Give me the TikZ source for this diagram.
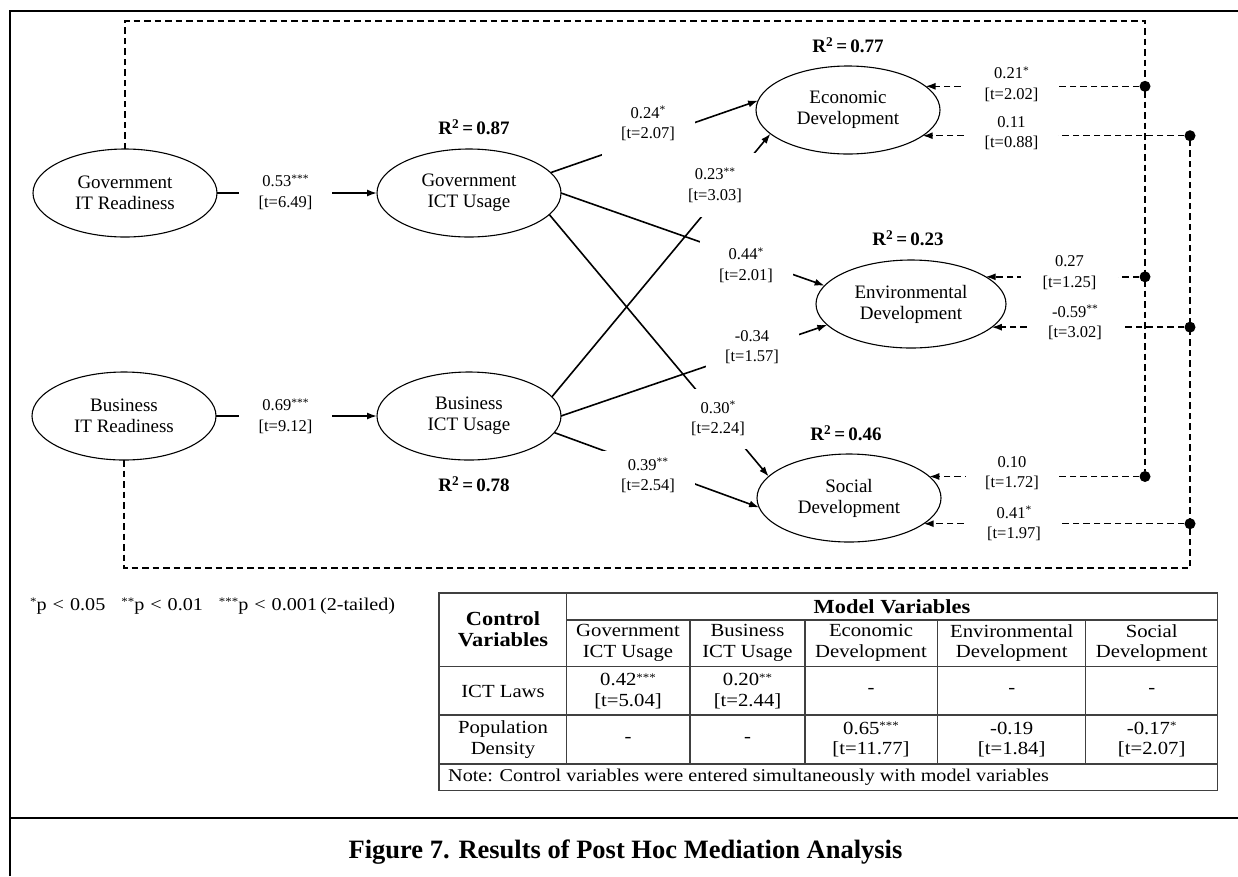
\documentclass[tikz,border=0pt]{standalone}
\usepackage{fontspec}
\setmainfont{Liberation Serif}
\newfontfamily\tabf[FakeStretch=1.12]{Liberation Serif}
\usetikzlibrary{shapes.geometric,arrows.meta}
\newcommand\nodefont{\fontsize{19}{21}\selectfont}
\newcommand\labfont{\fontsize{16.5}{20.5}\selectfont}
\newcommand\rfont{\fontsize{19}{22}\selectfont\bfseries}
\newcommand\capfont{\fontsize{26.5}{30}\selectfont\bfseries}
\newcommand\tabtext{\tabf\fontsize{18.5}{20.5}\selectfont}
\newcommand\tabhead{\tabf\fontsize{20}{21}\selectfont\bfseries}
\newcommand\sigst[1]{\raisebox{4.5pt}{\fontsize{11.5}{11.5}\selectfont #1}}
\begin{document}
\begin{tikzpicture}[x=1pt,y=-1pt,
  var/.style={ellipse, draw, line width=1.1pt, minimum width=184pt, minimum height=88pt,
    inner sep=0pt, outer sep=0pt, align=center, font=\nodefont},
  conn/.style={line width=1.6pt, -{Latex[length=10pt,width=7pt]}},
  ctrlline/.style={line width=1.4pt, dash pattern=on 6.5pt off 4pt},
  ctrl/.style={ctrlline, -{Latex[length=10pt,width=7pt]}},
  coef/.style={fill=white, inner sep=1pt, minimum width=93pt, align=center, font=\labfont},
  rsq/.style={font=\rfont, inner sep=1pt},
  dot/.style={circle, fill, inner sep=0pt, minimum size=11pt},
  frame/.style={line width=2.6pt},
  tab/.style={line width=1.4pt, black!75},
  cell/.style={align=center, font=\tabtext, inner sep=1pt},
  hcell/.style={align=center, font=\tabhead, inner sep=1pt}]
\useasboundingbox (0,0) rectangle (1238,876);

% frame
\draw[frame] (10,876) -- (10,11) -- (1238,11);
\draw[frame] (10,818) -- (1238,818);

% variables
\node[var] (gitr) at (125,193) {Government\\IT Readiness};
\node[var] (gict) at (469,193) {Government\\ICT Usage};
\node[var] (bitr) at (124,416) {Business\\IT Readiness};
\node[var] (bict) at (469,416) {Business\\ICT Usage};
\node[var] (econ) at (848,110) {Economic\\Development};
\node[var, minimum width=190pt] (envi) at (911,304) {Environmental\\Development};
\node[var] (soci) at (849,498) {Social\\Development};

% R squared
\node[rsq] (r87) at (474,127) {R\textsuperscript{2}\,=\,0.87};
\node[rsq] (r78) at (474,484) {R\textsuperscript{2}\,=\,0.78};
\node[rsq] (r77) at (848,45) {R\textsuperscript{2}\,=\,0.77};
\node[rsq] (r23) at (908,238) {R\textsuperscript{2}\,=\,0.23};
\node[rsq] (r46) at (846,433) {R\textsuperscript{2}\,=\,0.46};

% structural paths
\draw[conn] (gitr.east) -- (gict.west);
\draw[conn] (bitr.east) -- (bict.west);
\draw[conn] (gict.14) -- (econ.174);
\draw[conn] (bict.13) -- (econ.197);
\draw[conn] (gict.0) -- (envi.168);
\draw[conn] (bict.0) -- (envi.194);
\draw[conn] (gict.-15) -- (soci.165);
\draw[conn] (bict.-11) -- (soci.186);

% control paths
\coordinate (vA) at (1145,21);
\coordinate (vB) at (1190,568);
\node[dot] (dE1) at (econ.17 -| vA) {};
\node[dot] (dE2) at (econ.-19 -| vB) {};
\node[dot] (dN1) at (envi.20 -| vA) {};
\node[dot] (dN2) at (envi.-16 -| vB) {};
\node[dot] (dS1) at (soci.15 -| vA) {};
\node[dot] (dS2) at (soci.-19 -| vB) {};
\draw[ctrlline] (gitr.north) |- (vA) -- (dS1);
\draw[ctrlline] (bitr.south) |- (vB) -- (dE2);
\draw[ctrl] (dE1) -- (econ.17);
\draw[ctrl] (dE2) -- (econ.-19);
\draw[ctrl] (dN1) -- (envi.20);
\draw[ctrl] (dN2) -- (envi.-16);
\draw[ctrl] (dS1) -- (soci.15);
\draw[ctrl] (dS2) -- (soci.-19);

% coefficient labels
\node[coef, minimum height=44pt] (k53) at (285.5,192) {0.53\sigst{***}\\{}[t=6.49]};
\node[coef, minimum height=44pt] (k69) at (285.5,416) {0.69\sigst{***}\\{}[t=9.12]};
\node[coef, minimum height=64pt] (k24) at (648,123.5) {0.24\sigst{*}\\{}[t=2.07]};
\node[coef, minimum height=64pt] (k23) at (715,185) {0.23\sigst{**}\\{}[t=3.03]};
\node[coef, minimum height=48pt] (k44) at (746,265) {0.44\sigst{*}\\{}[t=2.01]};
\node[coef, minimum height=50pt] (k34) at (752,347) {-0.34\\{}[t=1.57]};
\node[coef, minimum height=60pt] (k30) at (718,418.5) {0.30\sigst{*}\\{}[t=2.24]};
\node[coef, minimum height=50pt] (k39) at (648,475.5) {0.39\sigst{**}\\{}[t=2.54]};
\node[coef] (c21) at (1011.5,84) {0.21\sigst{*}\\{}[t=2.02]};
\node[coef] (c11) at (1011.5,133) {0.11\\{}[t=0.88]};
\node[coef, minimum width=97pt] (c27) at (1069.5,272.5) {0.27\\{}[t=1.25]};
\node[coef, minimum width=96pt] (c59) at (1075,322.5) {-0.59\sigst{**}\\{}[t=3.02]};
\node[coef] (c10) at (1012,473) {0.10\\{}[t=1.72]};
\node[coef, minimum width=96pt] (c41) at (1014,523.5) {0.41\sigst{*}\\{}[t=1.97]};

% footnote
\node[anchor=west, font=\tabf\fontsize{18}{20}\selectfont, inner sep=0pt] (fn) at (30,606)
  {\sigst{*}p\,\,<\,\,0.05\hspace{16pt}\sigst{**}p\,\,<\,\,0.01\hspace{16pt}\sigst{***}p\,\,<\,\,0.001\,(2-tailed)};

% table
\draw[tab] (439,593) rectangle (1217.6,790.7);
\draw[tab] (566.6,620) -- (1217.6,620);
\draw[tab] (439,666.7) -- (1217.6,666.7);
\draw[tab] (439,715) -- (1217.6,715);
\draw[tab] (439,764) -- (1217.6,764);
\draw[tab] (566.6,593) -- (566.6,764);
\draw[tab] (690,620) -- (690,764);
\draw[tab] (805,620) -- (805,764);
\draw[tab] (937.7,620) -- (937.7,764);
\draw[tab] (1085.7,620) -- (1085.7,764);

\node[hcell] (tcv) at (503,629) {Control\\Variables};
\node[hcell] (tmv) at (892,606.5) {Model Variables};
\node[cell] (th1) at (628,643) {Government\\ICT Usage};
\node[cell] (th2) at (747.5,643) {Business\\ICT Usage};
\node[cell] (th3) at (871,643) {Economic\\Development};
\node[cell] (th4) at (1011.7,643) {Environmental\\Development};
\node[cell] (th5) at (1151.7,643) {Social\\Development};

\node[cell] (ta0) at (503,691) {ICT Laws};
\node[cell] (ta1) at (628,691) {0.42\sigst{***}\\{}[t=5.04]};
\node[cell] (ta2) at (747.5,691) {0.20\sigst{**}\\{}[t=2.44]};
\node[cell] (ta3) at (871,691) {-};
\node[cell] (ta4) at (1011.7,691) {-};
\node[cell] (ta5) at (1151.7,691) {-};

\node[cell] (tb0) at (503,739.5) {Population\\Density};
\node[cell] (tb1) at (628,739.5) {-};
\node[cell] (tb2) at (747.5,739.5) {-};
\node[cell] (tb3) at (871,739.5) {0.65\sigst{***}\\{}[t=11.77]};
\node[cell] (tb4) at (1011.7,739.5) {-0.19\\{}[t=1.84]};
\node[cell] (tb5) at (1151.7,739.5) {-0.17\sigst{*}\\{}[t=2.07]};

\node[cell, anchor=west, font=\tabf\fontsize{18}{20}\selectfont] (tnote) at (447,777.5)
  {Note: Control variables were entered simultaneously with model variables};

% caption
\node[font=\capfont] (cap) at (625.5,852) {Figure 7. Results of Post Hoc Mediation Analysis};
\end{tikzpicture}
\end{document}
